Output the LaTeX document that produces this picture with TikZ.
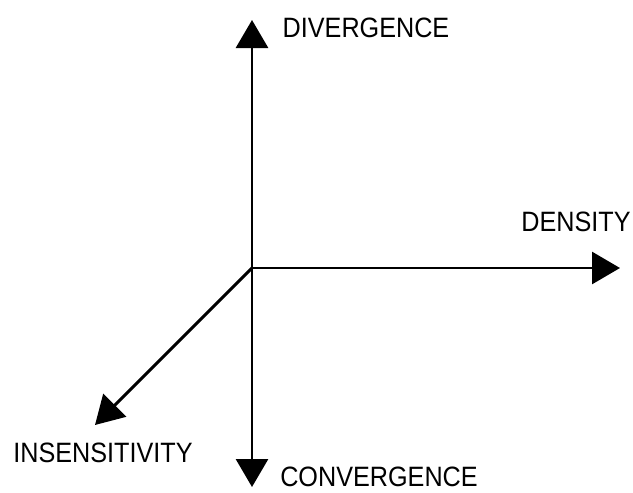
\documentclass[tikz,border=0pt]{standalone}
\usepackage{fontspec}
\setmainfont{Liberation Sans}[FakeStretch=0.9]
\usetikzlibrary{arrows.meta,positioning}

\begin{document}
\begin{tikzpicture}[x=0.75pt,y=-0.75pt,
  axis/.style={line width=2.2pt,-{Triangle[length=21pt,width=24pt]}},
  lab/.style={font=\fontsize{21}{24}\selectfont,inner sep=0pt}]
\useasboundingbox (0,0) rectangle (633,493);
\coordinate (o) at (252,268);
\coordinate (up) at (252,20); \coordinate (down) at (252,487);
\coordinate (right) at (620,268); \coordinate (diag) at (95,425);
\draw[axis] (o) -- (up); \draw[axis] (o) -- (down);
\draw[axis] (o) -- (right); \draw[axis] (o) -- (diag);
\node[lab] (div) at (366,28) {DIVERGENCE};
\node[lab] (dens) at (576,222) {DENSITY};
\node[lab] (ins) at (103,453) {INSENSITIVITY};
\node[lab] (conv) at (379,477) {CONVERGENCE};
\end{tikzpicture}
\end{document}
